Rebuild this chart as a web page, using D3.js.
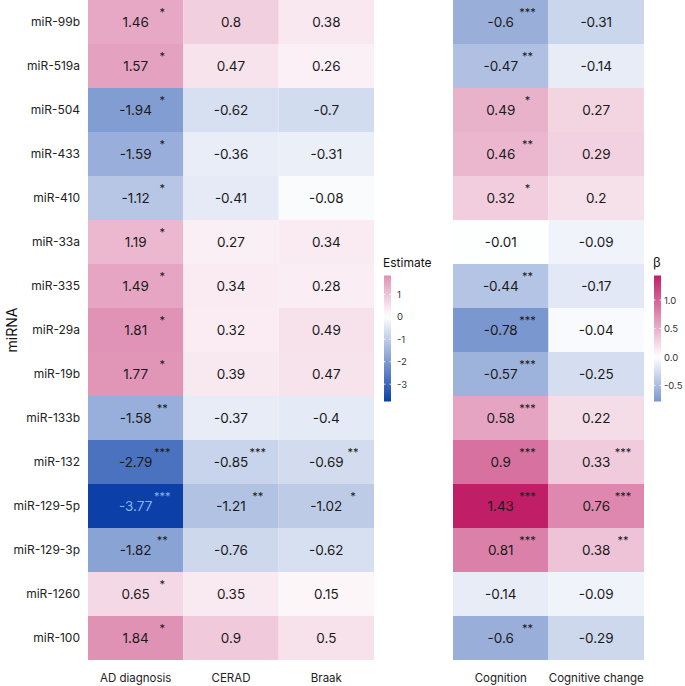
<!DOCTYPE html>
<html><head><meta charset="utf-8">
<script src="https://cdn.jsdelivr.net/npm/d3@7"></script>
<style>body{margin:0;background:#fff}svg{display:block;font-family:"Inter","Roboto",sans-serif}</style>
</head><body><svg id="c" width="685" height="686"></svg>
<script>
const mirnas = ["miR-99b","miR-519a","miR-504","miR-433","miR-410","miR-33a","miR-335","miR-29a","miR-19b","miR-133b","miR-132","miR-129-5p","miR-129-3p","miR-1260","miR-100"];
const leftCols = ["AD diagnosis","CERAD","Braak"];
const rightCols = ["Cognition","Cognitive change"];
const adDiagnosis = [1.46,1.57,-1.94,-1.59,-1.12,1.19,1.49,1.81,1.77,-1.58,-2.79,-3.77,-1.82,0.65,1.84];
const adStars     = ["*","*","*","*","*","*","*","*","*","**","***","***","**","*","*"];
const cerad       = [0.8,0.47,-0.62,-0.36,-0.41,0.27,0.34,0.32,0.39,-0.37,-0.85,-1.21,-0.76,0.35,0.9];
const ceradStars  = ["","","","","","","","","","","***","**","","",""];
const braak       = [0.38,0.26,-0.7,-0.31,-0.08,0.34,0.28,0.49,0.47,-0.4,-0.69,-1.02,-0.62,0.15,0.5];
const braakStars  = ["","","","","","","","","","","**","*","","",""];
const cognition   = [-0.6,-0.47,0.49,0.46,0.32,-0.01,-0.44,-0.78,-0.57,0.58,0.9,1.43,0.81,-0.14,-0.6];
const cognStars   = ["***","**","*","**","*","","**","***","***","***","***","***","***","","**"];
const cogChange   = [-0.31,-0.14,0.27,0.29,0.2,-0.09,-0.17,-0.04,-0.25,0.22,0.33,0.76,0.38,-0.09,-0.29];
const cogChStars  = ["","","","","","","","","","","***","***","**","",""];
const estTicks = [-3,-2,-1,0,1];
const betaTicks = [-0.5,0,0.5,1.0];

const LOW = "#0C40A8", HIGH = "#C01F68";
const svg = d3.select("#c");
const y = d3.scaleBand().domain(mirnas).range([0,660]);
const xL = d3.scaleBand().domain(leftCols).range([88,374]);
const xR = d3.scaleBand().domain(rightCols).range([453,644]);

function makeColor(vals){
  const m = d3.max(vals, v=>Math.abs(v));
  return d3.scaleLinear().domain([-m,0,m]).range([LOW,"#ffffff",HIGH]).interpolate(d3.interpolateRgb);
}
const leftVals = adDiagnosis.concat(cerad, braak);
const rightVals = cognition.concat(cogChange);
const colL = makeColor(leftVals), colR = makeColor(rightVals);

function panel(x, cols, series, stars, col){
  const data = [];
  cols.forEach((c,ci)=>mirnas.forEach((m,ri)=>data.push({c,m,v:series[ci][ri],s:stars[ci][ri]})));
  const g = svg.append("g");
  g.selectAll("rect").data(data).join("rect")
    .attr("x",d=>x(d.c)).attr("y",d=>y(d.m)).attr("width",x.bandwidth()).attr("height",y.bandwidth())
    .attr("fill",d=>col(d.v));
  const tc = d=> d3.hsl(col(d.v)).l < 0.4 ? "#86B3F0" : "#1a1a1a";
  g.selectAll("text.v").data(data).join("text").attr("class","v")
    .attr("x",d=>x(d.c)+x.bandwidth()/2).attr("y",d=>y(d.m)+y.bandwidth()/2+1)
    .attr("text-anchor","middle").attr("dominant-baseline","middle")
    .attr("font-size",13.5).attr("fill",tc).text(d=>d.v);
  g.selectAll("text.s").data(data.filter(d=>d.s)).join("text").attr("class","s")
    .attr("x",d=>x(d.c)+x.bandwidth()*0.78).attr("y",d=>y(d.m)+y.bandwidth()*0.5-6)
    .attr("text-anchor","middle").attr("font-size",11).attr("fill",tc).text(d=>d.s);
  const ax = svg.append("g").attr("transform","translate(0,660)").call(d3.axisBottom(x).tickSize(0).tickPadding(14));
  ax.select(".domain").remove();
  ax.selectAll("text").attr("font-size",11.5).attr("fill","#222").style("font-family","Inter, Roboto, sans-serif");
}
panel(xL, leftCols, [adDiagnosis,cerad,braak], [adStars,ceradStars,braakStars], colL);
panel(xR, rightCols, [cognition,cogChange], [cognStars,cogChStars], colR);

const ay = svg.append("g").attr("transform","translate(88,0)").call(d3.axisLeft(y).tickSize(0).tickPadding(8));
ay.select(".domain").remove();
ay.selectAll("text").attr("font-size",12).attr("fill","#222").style("font-family","Inter, Roboto, sans-serif");
svg.append("text").attr("transform","translate(17,330) rotate(-90)").attr("text-anchor","middle")
  .attr("font-size",14).attr("fill","#111").text("miRNA");

function legend(id, vals, col, ticks, x0, title, fmt, titleSize, pad){
  const ext = d3.extent(vals);
  const ly = d3.scaleLinear().domain(ext).range([401.5,275.5]);
  const grad = svg.append("defs").append("linearGradient").attr("id",id).attr("x1",0).attr("y1",1).attr("x2",0).attr("y2",0);
  d3.range(0,1.0001,0.02).forEach(t=>{
    grad.append("stop").attr("offset",t).attr("stop-color",col(ext[0]+t*(ext[1]-ext[0])));
  });
  svg.append("rect").attr("x",x0).attr("y",275.5).attr("width",7).attr("height",126).attr("fill",`url(#${id})`);
  const g = svg.append("g");
  ticks.forEach(t=>{
    g.append("line").attr("x1",x0).attr("x2",x0+1.5).attr("y1",ly(t)).attr("y2",ly(t)).attr("stroke","#fff").attr("stroke-width",0.8);
    g.append("line").attr("x1",x0+5.5).attr("x2",x0+7).attr("y1",ly(t)).attr("y2",ly(t)).attr("stroke","#fff").attr("stroke-width",0.8);
  });
  const ax = svg.append("g").attr("transform",`translate(${x0+7},0)`).call(d3.axisRight(ly).tickValues(ticks).tickSize(0).tickPadding(pad).tickFormat(fmt));
  ax.select(".domain").remove();
  ax.selectAll("text").attr("font-size",9.5).attr("fill","#333").style("font-family","Inter, Roboto, sans-serif");
  svg.append("text").attr("x",x0-1).attr("y",267).attr("font-size",titleSize).attr("fill","#111").text(title);
}
legend("gL", leftVals, colL, estTicks, 384, "Estimate", d=>String(d), 12, 6);
legend("gR", rightVals, colR, betaTicks, 654, "β", d=>d.toFixed(1), 13, 3);
</script></body></html>
